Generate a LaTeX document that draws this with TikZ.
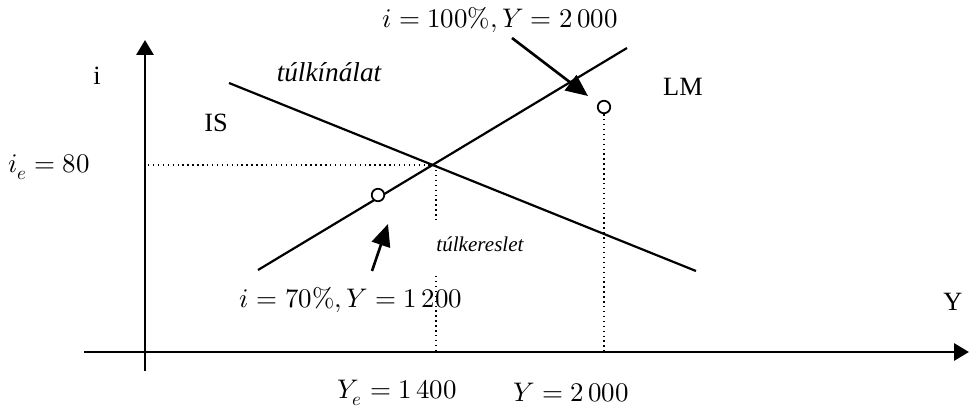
\documentclass[tikz,border=0pt]{standalone}
\usepackage{unicode-math}
\setmainfont{Liberation Serif}
\setmathfont{Latin Modern Math}
\usetikzlibrary{arrows.meta}

\begin{document}
\begin{tikzpicture}[x=0.2mm, y=-0.2mm,
    axis/.style={line width=1.7pt, -{Triangle[length=3mm, width=3.4mm]}},
    curve/.style={line width=1.25pt},
    guide/.style={line width=0.8pt, dotted},
    pt/.style={draw, circle, line width=1pt, fill=white, minimum size=2.5mm, inner sep=0pt},
    arr/.style={line width=1.5pt, -{Triangle[length=4.4mm, width=3.8mm]}},
    lbl/.style={font=\fontsize{15}{17}\selectfont, inner sep=1pt},
    mlbl/.style={font=\fontsize{15.3}{17}\selectfont, inner sep=1pt}]
  \useasboundingbox (0,0) rectangle (969,412);
  % axes
  \coordinate (o)  at (145,352);
  \coordinate (yb) at (145,371);
  \coordinate (yt) at (145,40);
  \coordinate (xl) at (84,352);
  \coordinate (xr) at (969,352);
  \draw[axis] (yb) -- (yt);
  \draw[axis] (xl) -- (xr);
  % IS and LM
  \coordinate (is1) at (229,83);  \coordinate (is2) at (696,271);
  \coordinate (lm1) at (258,270); \coordinate (lm2) at (627,48);
  \coordinate (eq)  at (433,165);
  \draw[curve] (is1) -- (is2);
  \draw[curve] (lm1) -- (lm2);
  % equilibrium guides
  \coordinate (ie) at (148,165);
  \coordinate (gapt) at (436,220);
  \coordinate (gapb) at (436,276);
  \coordinate (ye) at (436,352);
  \draw[guide] (ie) -- (eq);
  \draw[guide] (eq -| gapt) -- (gapt);
  \draw[guide] (gapb) -- (ye);
  % points
  \node[pt] (p1) at (378,195) {};
  \node[pt] (p2) at (604,107) {};
  \draw[guide] (p2.south) -- (p2.south |- o);
  % labels
  \node[lbl] (iax)  at (97,76)   {i};
  \node[lbl] (yax)  at (953,302) {Y};
  \node[lbl] (is)   at (216,123) {IS};
  \node[lbl] (lm)   at (683,87)  {LM};
  \node[font=\fontsize{15.5}{17}\selectfont\itshape] (over)  at (329,72)  {túlkínálat};
  \node[font=\fontsize{12}{14}\selectfont\itshape]   (under) at (480,244) {túlkereslet};
  \node[mlbl] (ielbl) at (49,167)  {$i_e=80$};
  \node[mlbl] (hi)    at (500,20)  {$i=100\%, Y=2\,000$};
  \node[mlbl] (lo)    at (351,300) {$i=70\%, Y=1\,200$};
  \node[mlbl] (yelbl) at (397,393) {$Y_e=1\,400$};
  \node[mlbl] (y2lbl) at (571,393) {$Y=2\,000$};
  % callouts
  \coordinate (a1) at (512,38);  \coordinate (a1e) at (588,96);
  \coordinate (a2) at (372,271); \coordinate (a2e) at (388,224);
  \draw[arr] (a1) -- (a1e);
  \draw[arr] (a2) -- (a2e);
\end{tikzpicture}
\end{document}
